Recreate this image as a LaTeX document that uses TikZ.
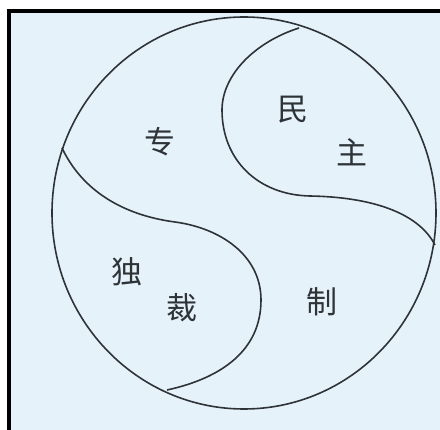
\documentclass[tikz,border=0pt]{standalone}
\usepackage{fontspec}
\newfontfamily\cjk{Noto Sans CJK SC}
\definecolor{paper}{HTML}{E6F2F9}
\definecolor{ink}{HTML}{2E3338}
\begin{document}
\begin{tikzpicture}[x=1pt,y=-1pt,
  curve/.style={draw=ink,line width=1.6pt},
  glyph/.style={font=\cjk\fontsize{31}{31}\selectfont,text=ink,inner sep=0pt}]
\useasboundingbox (0,0) rectangle (440,430);
\fill[white] (0,0) rectangle (440,430);
\fill[paper] (7,9) rectangle (440,430);
\fill[black] (7,9) rectangle (440,13);
\fill[black] (7,9) rectangle (11,430);
% outer circle
\draw[curve] (244,213) ellipse [x radius=192, y radius=-196];
% upper-right lobe boundary
\coordinate (a1) at (299,28);
\coordinate (a2) at (222,110);
\coordinate (a3) at (310,196);
\coordinate (a4) at (435,245);
\draw[curve] (a1) .. controls (255,42) and (222,75) .. (a2)
  .. controls (222,160) and (258,195) .. (a3)
  .. controls (370,197) and (418,212) .. (a4);
% lower-left lobe boundary
\coordinate (b1) at (62,148);
\coordinate (b2) at (175,222);
\coordinate (b3) at (261,300);
\coordinate (b4) at (167,390);
\draw[curve] (b1) .. controls (82,190) and (122,215) .. (b2)
  .. controls (220,228) and (261,255) .. (b3)
  .. controls (261,350) and (222,378) .. (b4);
% labels
\node[glyph] (min) at (293,110) {民};
\node[glyph] (zhu) at (352,152) {主};
\node[glyph] (zhuan) at (160,142) {专};
\node[glyph] (du) at (127,272) {独};
\node[glyph] (cai) at (182,308) {裁};
\node[glyph] (zhi) at (322,302) {制};
\end{tikzpicture}
\end{document}
